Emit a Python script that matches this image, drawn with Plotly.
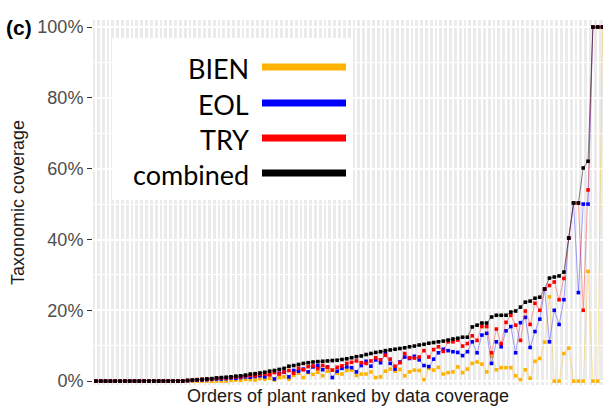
import plotly.graph_objects as go

# ---------------- data (percent taxonomic coverage per plant order, ranked) ----------------
combined = [0]*19 + [
    0.2, 0.3, 0.4, 0.5, 0.6, 0.7, 0.9, 1.0, 1.1, 1.2,
    1.4, 1.5, 1.7, 2.0, 2.1, 2.3, 2.5, 2.8, 3.0, 3.3,
    3.6, 4.2, 4.4, 4.7, 5.0, 5.2, 5.4, 5.5, 5.6, 5.7,
    5.8, 5.9, 6.1, 6.3, 6.6, 6.9, 7.1, 7.5, 7.8, 8.1,
    8.3, 8.6, 8.8, 9.0, 9.2, 9.4, 9.7, 9.9, 10.2, 10.4,
    10.7, 10.9, 11.1, 11.3, 11.6, 11.9, 12.1, 12.4, 12.4, 15.3,
    15.8, 16.4, 16.4, 18.1, 18.6, 18.6, 18.6, 19.5, 19.8, 20.9,
    22.3, 22.6, 23.4, 23.7, 26.0, 29.1, 29.4, 29.7, 30.8, 40.4,
    50.3, 50.3, 60.2, 62.1, 100, 100, 100]

try_cov = [0]*19 + [
    0.2, 0.3, 0.4, 0.5, 0.6, 0.6, 0.8, 0.9, 0.9, 1.1,
    1.2, 1.2, 1.5, 1.6, 1.5, 1.9, 2.0, 1.8, 2.4, 2.0,
    2.6, 3.0, 2.2, 3.6, 3.2, 4.1, 4.3, 3.5, 4.4, 3.9,
    3.1, 3.9, 4.3, 5.0, 5.3, 5.7, 5.2, 5.0, 5.7, 6.6,
    6.0, 7.3, 6.2, 4.2, 5.2, 7.8, 6.6, 6.5, 6.8, 8.6,
    6.8, 8.9, 9.7, 8.4, 11.1, 11.1, 11.6, 9.9, 10.6, 12.8,
    11.5, 15.4, 15.4, 8.0, 14.7, 10.6, 16.6, 18.6, 15.8, 11.5,
    19.8, 16.0, 22.0, 20.0, 26.0, 27.0, 28.0, 23.0, 29.0, 40.4,
    50.3, 50.3, 20.0, 54.0, 100, 100, 100]

eol = [0]*19 + [
    0.1, 0.2, 0.3, 0.3, 0.4, 0.5, 0.6, 0.6, 0.7, 0.9,
    0.8, 1.0, 1.2, 1.1, 1.3, 1.5, 1.2, 1.9, 0.6, 2.2,
    2.5, 1.2, 3.0, 2.8, 3.4, 2.6, 4.0, 4.4, 3.2, 4.0,
    1.0, 2.8, 3.6, 4.0, 3.8, 2.6, 4.4, 5.6, 4.2, 6.0,
    5.2, 7.8, 5.0, 3.4, 5.4, 6.8, 6.4, 7.0, 6.0, 4.4,
    4.1, 6.2, 8.0, 9.0, 8.6, 8.3, 8.1, 7.2, 8.3, 11.1,
    8.0, 13.0, 13.5, 5.0, 11.1, 9.7, 14.2, 15.4, 8.0, 16.5,
    18.0, 9.5, 14.0, 17.5, 26.0, 11.1, 20.0, 16.0, 23.0, 40.4,
    50.3, 25.0, 50.0, 50.0, 100, 100, 100]

bien = [0]*28 + [
    0.2, 0.3, 0.2, 0.5, 0.4, 0.3, 0.7, 0.5, 0.8, 0.3,
    1.0, 1.2, 0.5, 1.6, 2.2, 1.0, 2.4, 1.9, 2.5, 1.5,
    2.8, 3.1, 2.2, 2.0, 3.0, 3.1, 1.6, 2.0, 2.0, 2.6,
    1.0, 1.2, 2.8, 3.4, 2.8, 3.3, 1.5, 2.6, 3.1, 3.0,
    0.4, 3.6, 3.1, 3.9, 2.0, 2.4, 2.6, 4.0, 2.4, 3.4,
    5.0, 5.4, 4.8, 2.6, 7.0, 3.2, 3.8, 3.8, 3.8, 1.5,
    0.4, 3.2, 0.8, 5.6, 6.4, 11.0, 23.8, 0, 0, 7.8,
    9.3, 0, 0, 0, 31.0, 0, 0, 100]

orders = list(range(len(combined)))
y_tick_vals = [0, 20, 40, 60, 80, 100]
y_tick_text = ["0%", "20%", "40%", "60%", "80%", "100%"]

series_names = ["BIEN", "EOL", "TRY", "combined"]
series_values = [bien, eol, try_cov, combined]
series_colors = ["#FFB300", "#0000FF", "#FF0000", "#000000"]
line_colors = ["rgba(255,179,0,0.4)", "rgba(0,0,255,0.4)", "rgba(255,0,0,0.4)", "rgba(0,0,0,0.55)"]

fig = go.Figure()
for name, vals, col, lcol in zip(series_names, series_values, series_colors, line_colors):
    fig.add_trace(go.Scatter(
        x=orders, y=vals, name=name, mode="lines+markers",
        line=dict(color=lcol, width=0.9),
        marker=dict(symbol="square", size=3.6, color=col, line=dict(width=0)),
        showlegend=False, cliponaxis=True,
    ))

W, H = 603, 412
L, R, T, B = 93, 0, 20, 27
pw, ph = W - L - R, H - T - B

def px(xp):
    return (xp - L) / pw

def py(yp):
    return (H - B - yp) / ph

# custom legend box
shapes = [dict(type="rect", xref="paper", yref="paper",
               x0=px(112), x1=px(352), y0=py(200), y1=py(38),
               fillcolor="white", line=dict(width=0), layer="above")]
annotations = []
rows_y = [67, 103, 138, 173]
for name, col, yy in zip(series_names, series_colors, rows_y):
    shapes.append(dict(type="line", xref="paper", yref="paper",
                       x0=px(262), x1=px(346), y0=py(yy), y1=py(yy),
                       line=dict(color=col, width=7), layer="above"))
    annotations.append(dict(text=name, xref="paper", yref="paper",
                            x=px(251), y=py(yy + 1), xanchor="right", yanchor="middle",
                            showarrow=False, font=dict(family="Lato", size=27, color="black")))

annotations.append(dict(text="<b>(c)</b>", xref="paper", yref="y", x=px(4), y=100,
                        xanchor="left", yanchor="middle", showarrow=False,
                        font=dict(family="Liberation Sans", size=21, color="black")))

fig.update_layout(
    width=W, height=H,
    margin=dict(l=L, r=R, t=T, b=B, pad=0),
    paper_bgcolor="white", plot_bgcolor="#EBEBEB",
    shapes=shapes, annotations=annotations,
    font=dict(family="Liberation Sans"),
    xaxis=dict(range=[-0.6, 105.1], tickmode="linear", tick0=0, dtick=1,
               showgrid=True, gridcolor="white", gridwidth=1.7,
               showticklabels=False, ticks="", zeroline=False, showline=False,
               title=dict(text="Orders of plant ranked by data coverage", standoff=4,
                          font=dict(size=18, color="#1A1A1A"))),
    yaxis=dict(range=[-1.1, 102], tickmode="array", tickvals=y_tick_vals, ticktext=y_tick_text,
               showgrid=True, gridcolor="white", gridwidth=1.5,
               minor=dict(tickmode="array", tickvals=[10, 30, 50, 70, 90], showgrid=True,
                          gridcolor="white", gridwidth=0.8),
               ticks="outside", ticklen=5, tickcolor="#333333", tickwidth=1.2,
               tickfont=dict(size=18, color="#4D4D4D"),
               zeroline=False, showline=False,
               title=dict(text="Taxonomic coverage", standoff=8,
                          font=dict(size=18, color="#1A1A1A"))),
)

fig.write_html("out.html", config={"displayModeBar": False},
               post_script="document.body.style.margin='0px';")
